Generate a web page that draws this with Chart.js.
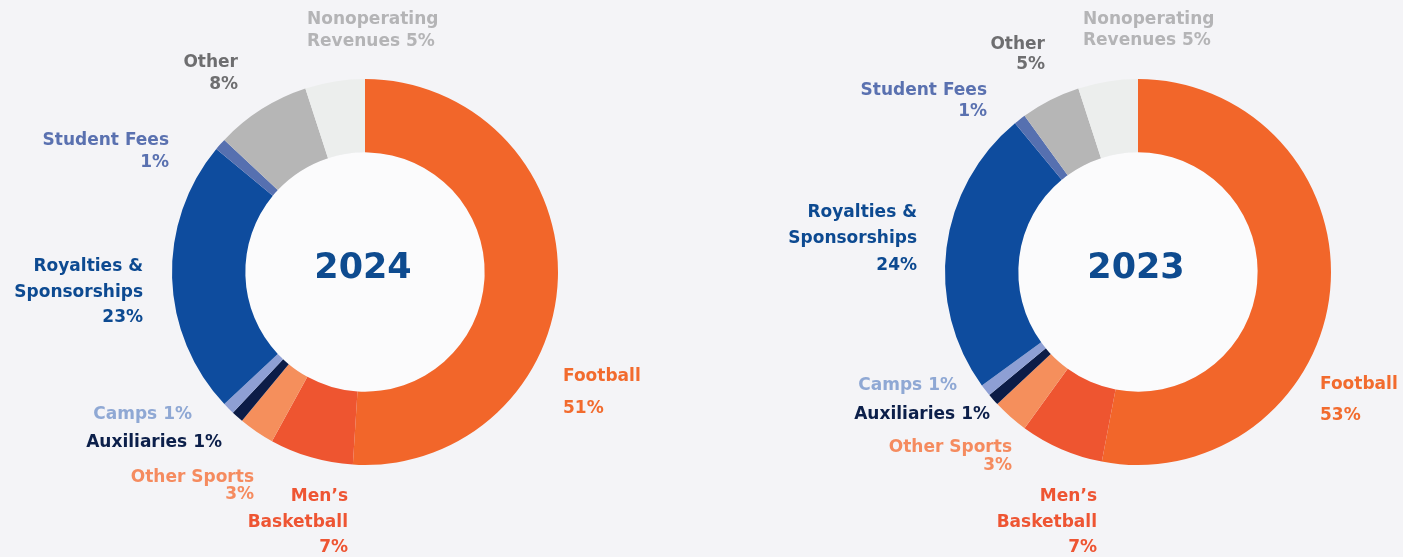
<!DOCTYPE html>
<html lang="en">
<head>
  <meta charset="UTF-8">
  <title>Revenue sources - 2024 / 2023</title>
  <script src="https://cdn.jsdelivr.net/npm/chart.js"></script>
  <style>
    html, body { margin: 0; padding: 0; background: #f4f4f7; }
    #wrap { position: relative; width: 1403px; height: 557px; overflow: hidden; }
    .pane { position: absolute; top: 0; height: 557px; }
    #pane2024 { left: 0; width: 700px; }
    #pane2023 { left: 700px; width: 703px; }
  </style>
</head>
<body>
  <div id="wrap">
    <div class="pane" id="pane2024"><canvas id="chart2024"></canvas></div>
    <div class="pane" id="pane2023"><canvas id="chart2023"></canvas></div>
  </div>

  <script>
// Slices go clockwise from 12 o'clock
var CATEGORIES = ["Football", "Men’s Basketball", "Other Sports", "Auxiliaries", "Camps",
                  "Royalties & Sponsorships", "Student Fees", "Other", "Nonoperating Revenues"];
var VALUES_2024 = [51, 7, 3, 1, 1, 23, 1, 8, 5];
var VALUES_2023 = [53, 7, 3, 1, 1, 24, 1, 5, 5];

var SLICE_COLORS = ["#f2662a", "#ee5530", "#f58f5c", "#0c1c47", "#8e9fd4",
                    "#0e4c9e", "#5670b0", "#b6b6b6", "#eceeed"];
var LABEL_COLORS = ["#f26b2e", "#ee5533", "#f58b5f", "#0c1f4a", "#8fa8d4",
                    "#0d4a91", "#5a71b0", "#6e6e70", "#b4b4b6"];
var YEAR_COLOR = "#0e4b8f";
var FONT = '"DejaVu Sans", "Noto Sans", sans-serif';

// how each label is broken into lines ({v} = value), and where it sits
var LABEL_LINES = [
  ["Football", "{v}"],
  ["Men’s", "Basketball", "{v}"],
  ["Other Sports", "{v}"],
  ["Auxiliaries {v}"],
  ["Camps {v}"],
  ["Royalties &", "Sponsorships", "{v}"],
  ["Student Fees", "{v}"],
  ["Other", "{v}"],
  ["Nonoperating", "Revenues {v}"]
];

var PLACE_2024 = [
  {x: 563, y: [377, 409], align: "left"},
  {x: 348, y: [497, 523, 548], align: "right"},
  {x: 254, y: [478, 495], align: "right"},
  {x: 222, y: [443], align: "right"},
  {x: 192, y: [415], align: "right"},
  {x: 143, y: [267, 293, 318], align: "right"},
  {x: 169, y: [141, 163], align: "right"},
  {x: 238, y: [63, 85], align: "right"},
  {x: 307, y: [20, 42], align: "left"}
];

// local to the right pane (page x - 700)
var PLACE_2023 = [
  {x: 620, y: [385, 416], align: "left"},
  {x: 397, y: [497, 523, 548], align: "right"},
  {x: 312, y: [448, 466], align: "right"},
  {x: 290, y: [415], align: "right"},
  {x: 257, y: [386], align: "right"},
  {x: 217, y: [213, 239, 266], align: "right"},
  {x: 287, y: [91, 112], align: "right"},
  {x: 345, y: [45, 65], align: "right"},
  {x: 383, y: [20, 41], align: "left"}
];

/* White disc in the hole, then labels and the year */
var sliceLabels = {
  id: "sliceLabels",
  beforeDatasetsDraw: function(chart) {
    var arc = chart.getDatasetMeta(0).data[0];
    var ctx = chart.ctx;
    ctx.save();
    ctx.fillStyle = "#fbfbfc";
    ctx.beginPath();
    ctx.arc(arc.x, arc.y, arc.innerRadius, 0, Math.PI * 2);
    ctx.fill();
    ctx.restore();
  },
  afterDraw: function(chart, args, opts) {
    var ctx = chart.ctx;
    var values = chart.data.datasets[0].data;
    ctx.save();
    ctx.textBaseline = "middle";
    ctx.font = "700 17px " + FONT;
    for (var i = 0; i < opts.place.length; i++) {
      var p = opts.place[i];
      ctx.fillStyle = LABEL_COLORS[i];
      ctx.textAlign = p.align;
      for (var j = 0; j < LABEL_LINES[i].length; j++) {
        ctx.fillText(LABEL_LINES[i][j].replace("{v}", values[i] + "%"), p.x, p.y[j]);
      }
    }
    var arc = chart.getDatasetMeta(0).data[0];
    ctx.textAlign = "center";
    ctx.font = "700 35px " + FONT;
    ctx.fillStyle = YEAR_COLOR;
    ctx.fillText(opts.year, arc.x - 2, arc.y - 3);
    ctx.restore();
  }
};

/* Build one doughnut */
function createDoughnut(_id, _values, _year, _place, _padding) {
  return new Chart(document.getElementById(_id), {
    type: "doughnut",
    data: {
      labels: CATEGORIES,
      datasets: [{
        data: _values,
        backgroundColor: SLICE_COLORS,
        borderWidth: 0
      }]
    },
    options: {
      responsive: true,
      maintainAspectRatio: false,
      animation: false,
      cutout: "62%",
      layout: { padding: _padding },
      plugins: {
        legend: { display: false },
        tooltip: { enabled: false },
        sliceLabels: { year: _year, place: _place }
      }
    },
    plugins: [sliceLabels]
  });
}

createDoughnut("chart2024", VALUES_2024, "2024", PLACE_2024, {left: 172, right: 142, top: 79, bottom: 92});
createDoughnut("chart2023", VALUES_2023, "2023", PLACE_2023, {left: 245, right: 72, top: 79, bottom: 92});
  </script>
</body>
</html>
